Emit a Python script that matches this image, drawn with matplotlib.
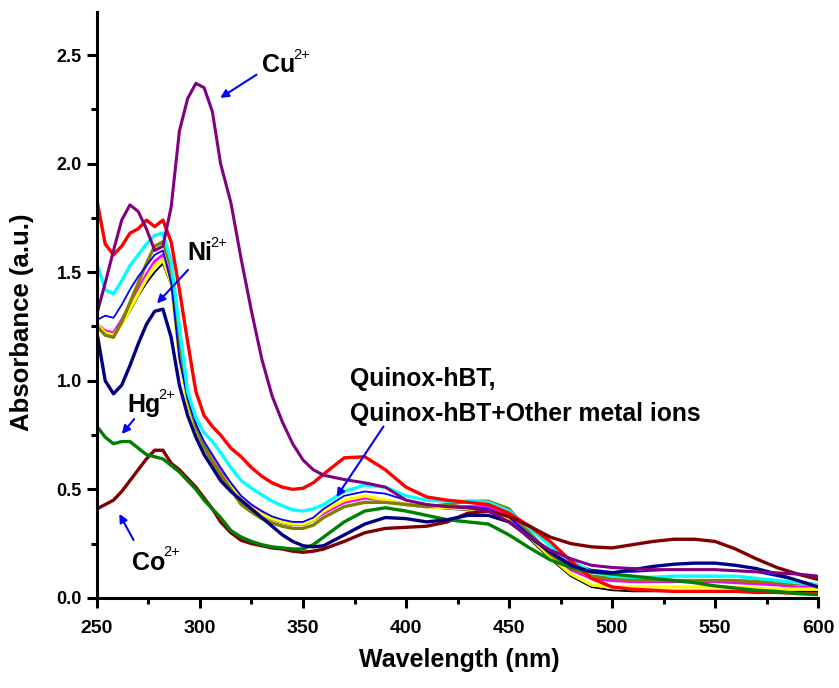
import matplotlib
matplotlib.use("Agg")
import matplotlib.pyplot as plt
from matplotlib.ticker import MultipleLocator

plt.rcParams['font.family'] = ['Liberation Sans', 'DejaVu Sans']
plt.rcParams['font.weight'] = 'bold'

# wavelength grid (nm)
wl = [250, 254, 258, 262, 266, 270, 274, 278, 282, 286, 290, 294, 298, 302, 306, 310,
      315, 320, 325, 330, 335, 340, 345, 350, 355, 360,
      370, 380, 390, 400, 410, 420, 430, 440, 450, 460, 470, 480, 490, 500,
      510, 520, 530, 540, 550, 560, 570, 580, 590, 600]

black = [1.25, 1.22, 1.21, 1.26, 1.32, 1.39, 1.45, 1.50, 1.54, 1.44, 1.09, 0.89, 0.77, 0.69, 0.62, 0.56,
         0.50, 0.44, 0.41, 0.38, 0.36, 0.345, 0.335, 0.335, 0.355, 0.39,
         0.44, 0.46, 0.45, 0.43, 0.42, 0.41, 0.405, 0.40, 0.355, 0.27, 0.18, 0.10, 0.05, 0.035,
         0.03, 0.03, 0.03, 0.03, 0.03, 0.03, 0.03, 0.03, 0.03, 0.03]
magenta = [1.26, 1.23, 1.22, 1.28, 1.35, 1.42, 1.49, 1.55, 1.58, 1.48, 1.12, 0.91, 0.79, 0.71, 0.64, 0.58,
           0.52, 0.45, 0.42, 0.39, 0.365, 0.35, 0.34, 0.34, 0.36, 0.39,
           0.44, 0.46, 0.45, 0.43, 0.42, 0.42, 0.42, 0.42, 0.38, 0.29, 0.20, 0.13, 0.09, 0.08,
           0.075, 0.075, 0.075, 0.075, 0.075, 0.07, 0.065, 0.06, 0.05, 0.045]
yellow = [1.26, 1.22, 1.21, 1.26, 1.33, 1.40, 1.47, 1.53, 1.56, 1.45, 1.10, 0.90, 0.78, 0.70, 0.63, 0.57,
          0.51, 0.45, 0.415, 0.385, 0.365, 0.35, 0.34, 0.34, 0.36, 0.40,
          0.45, 0.47, 0.45, 0.43, 0.42, 0.415, 0.41, 0.40, 0.36, 0.28, 0.19, 0.11, 0.06, 0.05,
          0.05, 0.05, 0.05, 0.05, 0.05, 0.048, 0.045, 0.04, 0.04, 0.04]
olive = [1.25, 1.21, 1.20, 1.27, 1.36, 1.45, 1.54, 1.62, 1.64, 1.52, 1.15, 0.92, 0.79, 0.70, 0.63, 0.57,
         0.50, 0.43, 0.395, 0.365, 0.345, 0.33, 0.32, 0.32, 0.335, 0.37,
         0.42, 0.44, 0.44, 0.43, 0.42, 0.43, 0.445, 0.445, 0.41, 0.30, 0.20, 0.14, 0.10, 0.09,
         0.085, 0.08, 0.08, 0.08, 0.08, 0.08, 0.075, 0.07, 0.065, 0.06]
blue = [1.28, 1.30, 1.29, 1.35, 1.42, 1.48, 1.53, 1.58, 1.60, 1.45, 1.10, 0.92, 0.80, 0.72, 0.66, 0.60,
        0.53, 0.47, 0.43, 0.40, 0.375, 0.36, 0.35, 0.35, 0.37, 0.41,
        0.47, 0.49, 0.48, 0.45, 0.43, 0.42, 0.42, 0.41, 0.37, 0.29, 0.21, 0.16, 0.13, 0.12,
        0.12, 0.125, 0.13, 0.13, 0.13, 0.125, 0.12, 0.10, 0.08, 0.06]
cyan = [1.54, 1.42, 1.40, 1.46, 1.53, 1.58, 1.63, 1.67, 1.68, 1.55, 1.25, 0.95, 0.83, 0.76, 0.72, 0.67,
        0.60, 0.54, 0.505, 0.475, 0.445, 0.425, 0.405, 0.40, 0.41, 0.43,
        0.49, 0.52, 0.51, 0.47, 0.45, 0.445, 0.445, 0.44, 0.40, 0.32, 0.24, 0.17, 0.12, 0.10,
        0.095, 0.095, 0.10, 0.10, 0.10, 0.10, 0.09, 0.08, 0.07, 0.06]
red = [1.83, 1.63, 1.58, 1.62, 1.68, 1.70, 1.74, 1.71, 1.74, 1.64, 1.42, 1.18, 0.95, 0.84, 0.79, 0.75,
       0.69, 0.65, 0.60, 0.56, 0.53, 0.51, 0.50, 0.505, 0.53, 0.57,
       0.645, 0.65, 0.59, 0.51, 0.465, 0.45, 0.44, 0.43, 0.39, 0.33, 0.26, 0.17, 0.09, 0.05,
       0.04, 0.035, 0.03, 0.03, 0.03, 0.03, 0.025, 0.025, 0.02, 0.02]
co = [0.41, 0.43, 0.45, 0.49, 0.54, 0.59, 0.64, 0.68, 0.68, 0.62, 0.59, 0.55, 0.51, 0.46, 0.41, 0.35,
      0.30, 0.265, 0.25, 0.24, 0.23, 0.225, 0.215, 0.21, 0.215, 0.225,
      0.26, 0.30, 0.32, 0.325, 0.33, 0.35, 0.39, 0.40, 0.375, 0.33, 0.28, 0.25, 0.235, 0.23,
      0.245, 0.26, 0.27, 0.27, 0.26, 0.225, 0.18, 0.14, 0.11, 0.085]
hg = [0.79, 0.74, 0.71, 0.72, 0.72, 0.69, 0.66, 0.65, 0.64, 0.61, 0.58, 0.54, 0.50, 0.45, 0.41, 0.37,
      0.31, 0.28, 0.26, 0.245, 0.235, 0.23, 0.225, 0.225, 0.245, 0.28,
      0.35, 0.40, 0.415, 0.40, 0.38, 0.36, 0.35, 0.34, 0.29, 0.23, 0.175, 0.14, 0.12, 0.11,
      0.10, 0.09, 0.08, 0.07, 0.055, 0.045, 0.035, 0.03, 0.02, 0.015]
ni = [1.22, 1.00, 0.94, 0.98, 1.07, 1.17, 1.26, 1.32, 1.33, 1.20, 0.98, 0.84, 0.74, 0.66, 0.60, 0.54,
      0.49, 0.45, 0.41, 0.37, 0.33, 0.29, 0.26, 0.24, 0.235, 0.24,
      0.29, 0.34, 0.37, 0.365, 0.35, 0.36, 0.38, 0.38, 0.35, 0.28, 0.21, 0.15, 0.12, 0.115,
      0.13, 0.145, 0.155, 0.16, 0.16, 0.15, 0.135, 0.11, 0.08, 0.05]
cu = [1.31, 1.45, 1.60, 1.74, 1.81, 1.78, 1.70, 1.60, 1.62, 1.80, 2.15, 2.30, 2.37, 2.35, 2.24, 2.00,
      1.82, 1.56, 1.32, 1.10, 0.93, 0.81, 0.71, 0.635, 0.59, 0.565,
      0.545, 0.53, 0.51, 0.45, 0.43, 0.42, 0.415, 0.40, 0.35, 0.28, 0.22, 0.18, 0.15, 0.14,
      0.135, 0.13, 0.13, 0.13, 0.13, 0.125, 0.12, 0.115, 0.11, 0.10]

fig = plt.figure(figsize=(8.39, 6.88), dpi=100)
ax = fig.add_axes([0.1156, 0.131, 0.8594, 0.852])

ax.plot(wl, black, color='black', lw=1.3)
ax.plot(wl, magenta, color='#ff00ff', lw=2.2)
ax.plot(wl, yellow, color='#ffff00', lw=2.4)
ax.plot(wl, olive, color='#808000', lw=2.4)
ax.plot(wl, blue, color='#0000ff', lw=1.3)
ax.plot(wl, cyan, color='#00ffff', lw=2.4)
ax.plot(wl, red, color='#ff0000', lw=2.4)
ax.plot(wl, co, color='#800000', lw=2.4)
ax.plot(wl, hg, color='#008000', lw=2.4)
ax.plot(wl, ni, color='#000080', lw=2.4)
ax.plot(wl, cu, color='#800080', lw=2.2)

ax.set_xlim(250, 600)
ax.set_ylim(0, 2.7)
ax.xaxis.set_major_locator(MultipleLocator(50))
ax.xaxis.set_minor_locator(MultipleLocator(25))
ax.yaxis.set_major_locator(MultipleLocator(0.5))
ax.yaxis.set_minor_locator(MultipleLocator(0.25))
ax.yaxis.set_major_formatter(plt.FormatStrFormatter('%.1f'))

for s in ['top', 'right']:
    ax.spines[s].set_visible(False)
for s in ['left', 'bottom']:
    ax.spines[s].set_linewidth(2.2)
ax.tick_params(which='major', direction='out', length=7, width=2.2)
ax.tick_params(which='minor', direction='out', length=4, width=2.2)
ax.tick_params(axis='y', labelsize=13, pad=4)
ax.tick_params(axis='x', labelsize=14, pad=9)
for lab in ax.get_xticklabels() + ax.get_yticklabels():
    lab.set_fontweight('bold')

ax.set_xlabel('Wavelength (nm)', fontsize=18, fontweight='bold', va='top')
ax.xaxis.set_label_coords(0.502, -0.085)
ax.set_ylabel('Absorbance (a.u.)', fontsize=18.5, fontweight='bold')
ax.yaxis.set_label_coords(-0.088, 0.471)

arrow = dict(arrowstyle='-|>', color='#0000ff', lw=1.5, mutation_scale=12)

fig.canvas.draw()
renderer = fig.canvas.get_renderer()


def ion_label(x, y, base, sup):
    t = ax.text(x, y, base, fontsize=18, fontweight='bold', va='baseline')
    w = t.get_window_extent(renderer).width * 72 / fig.dpi
    ax.annotate(sup, xy=(x, y), xytext=(w - 1.5, 9.5), textcoords='offset points',
                fontsize=10.5, fontweight='normal', va='baseline')


ion_label(330, 2.42, 'Cu', '2+')
ax.annotate('', xy=(308.7, 2.296), xytext=(328.6, 2.417), arrowprops=arrow)
ion_label(293.7, 1.556, 'Ni', '2+')
ax.annotate('', xy=(278.2, 1.347), xytext=(295.1, 1.52), arrowprops=arrow)
ion_label(264.6, 0.856, 'Hg', '2+')
ax.annotate('', xy=(261.2, 0.745), xytext=(268.9, 0.833), arrowprops=arrow)
ion_label(267, 0.13, 'Co', '2+')
ax.annotate('', xy=(260.2, 0.398), xytext=(268.4, 0.255), arrowprops=arrow)

ax.text(372.8, 0.977, 'Quinox-hBT,', fontsize=17.8, fontweight='bold', va='baseline')
ax.text(372.8, 0.815, 'Quinox-hBT+Other metal ions', fontsize=17.8, fontweight='bold', va='baseline')
ax.annotate('', xy=(365.5, 0.454), xytext=(389.8, 0.80), arrowprops=arrow)

fig.savefig('out.png', dpi=100)
